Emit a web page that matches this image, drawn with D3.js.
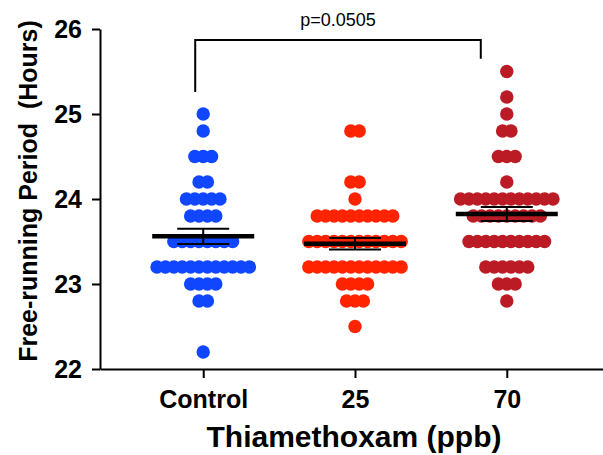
<!DOCTYPE html>
<html>
<head>
<meta charset="utf-8">
<script src="https://cdn.jsdelivr.net/npm/d3@7"></script>
<style>
  body { margin: 0; background: #fff; }
  text { font-family: "Liberation Sans", Arial, sans-serif; }
</style>
</head>
<body>
<script>
// groups and raw values (hours)
var groups = ["Control", "25", "70"];
var colors = ["#1146ff", "#ff2300", "#bb1b24"];

var controlVals = [25.0, 24.8, 24.5, 24.5, 24.5, 24.2, 24.2,
  24.0, 24.0, 24.0, 24.0, 24.0, 23.8, 23.8, 23.8, 23.8,
  23.5, 23.5, 23.5, 23.5, 23.5, 23.5, 23.5, 23.5,
  23.2, 23.2, 23.2, 23.2, 23.2, 23.2, 23.2, 23.2, 23.2, 23.2, 23.2, 23.2,
  23.0, 23.0, 23.0, 23.0, 22.8, 22.8, 22.2];

var tmx25Vals = [24.8, 24.8, 24.2, 24.2, 24.0,
  23.8, 23.8, 23.8, 23.8, 23.8, 23.8, 23.8, 23.8, 23.8, 23.8,
  23.5, 23.5, 23.5, 23.5, 23.5, 23.5, 23.5, 23.5, 23.5, 23.5, 23.5, 23.5,
  23.2, 23.2, 23.2, 23.2, 23.2, 23.2, 23.2, 23.2, 23.2, 23.2, 23.2, 23.2,
  23.0, 23.0, 23.0, 23.0, 22.8, 22.8, 22.8, 22.5];

var tmx70Vals = [25.5, 25.2, 25.0, 24.8, 24.8, 24.5, 24.5, 24.5, 24.2,
  24.0, 24.0, 24.0, 24.0, 24.0, 24.0, 24.0, 24.0, 24.0, 24.0, 24.0, 24.0,
  23.8, 23.8, 23.8, 23.8, 23.8, 23.8, 23.8, 23.8, 23.8,
  23.5, 23.5, 23.5, 23.5, 23.5, 23.5, 23.5, 23.5, 23.5, 23.5,
  23.2, 23.2, 23.2, 23.2, 23.2, 23.2, 23.0, 23.0, 23.0, 22.8];

var yTicks = [22, 23, 24, 25, 26];
var pLabel = "p=0.0505";
var bracket = { from: "Control", to: "70", top: 25.87, leftEnd: 25.26, rightEnd: 25.65 };

var width = 603, height = 455;
var r = 6.7, step = 8.4;

var svg = d3.select("body").append("svg")
  .attr("width", width)
  .attr("height", height);

var x = d3.scalePoint()
  .domain(groups)
  .range([100, 610])
  .padding(0.68);

var y = d3.scaleLinear()
  .domain([22, 26])
  .range([369, 29]);

var allVals = [controlVals, tmx25Vals, tmx70Vals];

// dots, rows of equal value spread sideways
allVals.forEach(function (vals, gi) {
  var rows = d3.groups(vals, function (d) { return d; });
  var pts = [];
  rows.forEach(function (row) {
    var n = row[1].length;
    row[1].forEach(function (v, i) {
      pts.push({ v: v, dx: (i - (n - 1) / 2) * step });
    });
  });
  svg.append("g").selectAll("circle")
    .data(pts)
    .enter().append("circle")
    .attr("cx", function (d) { return x(groups[gi]) + d.dx; })
    .attr("cy", function (d) { return y(d.v); })
    .attr("r", r)
    .style("fill", colors[gi]);
});

// mean and SEM
allVals.forEach(function (vals, gi) {
  var m = d3.mean(vals);
  var sem = d3.deviation(vals) / Math.sqrt(vals.length);
  var cx = x(groups[gi]);
  var g = svg.append("g").attr("stroke", "#000");
  g.append("line")
    .attr("x1", cx - 51).attr("x2", cx + 51)
    .attr("y1", y(m)).attr("y2", y(m))
    .attr("stroke-width", 4.5);
  g.append("line")
    .attr("x1", cx).attr("x2", cx)
    .attr("y1", y(m - sem)).attr("y2", y(m + sem))
    .attr("stroke-width", 2);
  [m - sem, m + sem].forEach(function (v) {
    g.append("line")
      .attr("x1", cx - 26).attr("x2", cx + 26)
      .attr("y1", y(v)).attr("y2", y(v))
      .attr("stroke-width", 2);
  });
});

// axes
var yAxis = svg.append("g")
  .attr("transform", "translate(100,0)")
  .call(d3.axisLeft(y).tickValues(yTicks).tickFormat(d3.format("d"))
    .tickSize(8).tickSizeOuter(0).tickPadding(10));

var xAxis = svg.append("g")
  .attr("transform", "translate(0,369)")
  .call(d3.axisBottom(x).tickSize(9).tickSizeOuter(0).tickPadding(12));

[yAxis, xAxis].forEach(function (ax) {
  ax.select(".domain").attr("stroke-width", 2);
  ax.selectAll(".tick line").attr("stroke-width", 2);
  ax.selectAll(".tick text")
    .style("font-size", "25px")
    .style("font-weight", "bold")
    .attr("fill", "#000");
});

// axis titles
svg.append("text")
  .attr("transform", "translate(37,191) rotate(-90)")
  .attr("text-anchor", "middle")
  .style("font-size", "25px")
  .style("font-weight", "bold")
  .style("white-space", "pre")
  .text("Free-running Period  (Hours)");

svg.append("text")
  .attr("x", 354)
  .attr("y", 447)
  .attr("text-anchor", "middle")
  .style("font-size", "30px")
  .style("font-weight", "bold")
  .text("Thiamethoxam (ppb)");

// significance bracket
var bx1 = x(bracket.from) - 8, bx2 = x(bracket.to) - 26;
svg.append("path")
  .attr("d", "M" + bx1 + "," + y(bracket.leftEnd) +
    "V" + y(bracket.top) + "H" + bx2 + "V" + y(bracket.rightEnd))
  .attr("fill", "none")
  .attr("stroke", "#000")
  .attr("stroke-width", 2);

svg.append("text")
  .attr("x", (bx1 + bx2) / 2)
  .attr("y", 26)
  .attr("text-anchor", "middle")
  .style("font-size", "18px")
  .text(pLabel);
</script>
</body>
</html>
